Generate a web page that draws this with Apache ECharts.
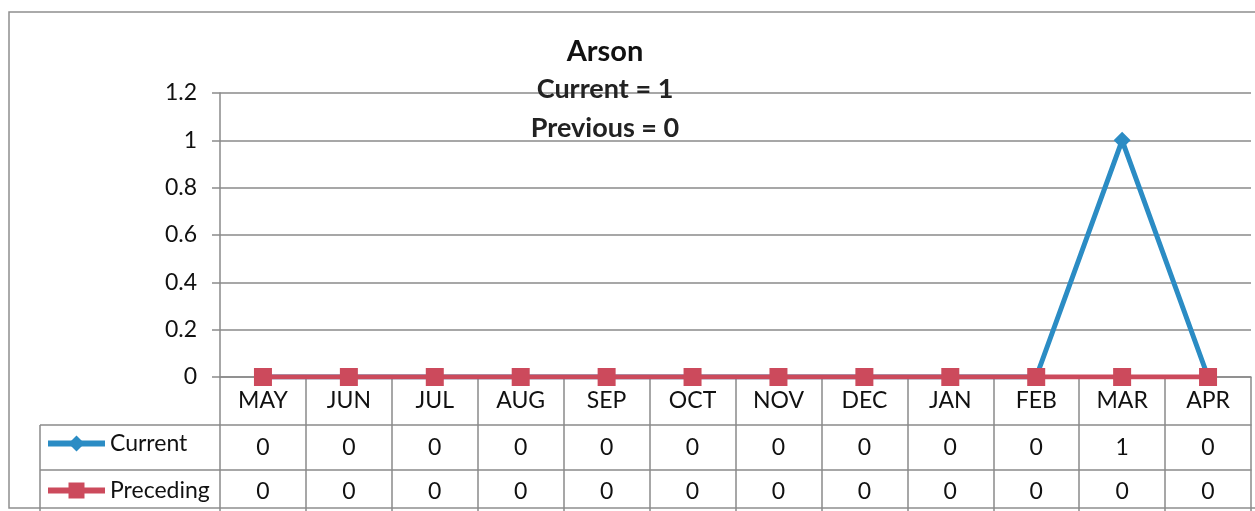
<!DOCTYPE html>
<html>
<head>
<meta charset="utf-8">
<script src="https://cdn.jsdelivr.net/npm/echarts@6/dist/echarts.min.js"></script>
<style>
html,body{margin:0;padding:0;background:#fff;}
#c{width:1255px;height:511px;}
</style>
</head>
<body>
<div id="c"></div>
<script>
const chartTitle = 'Arson';
const months = ['MAY','JUN','JUL','AUG','SEP','OCT','NOV','DEC','JAN','FEB','MAR','APR'];
const currentVals = [0,0,0,0,0,0,0,0,0,0,1,0];
const precedingVals = [0,0,0,0,0,0,0,0,0,0,0,0];
const yTicks = {min: 0, max: 1.2, interval: 0.2};

const sum = a => a.reduce((s, v) => s + v, 0);
const FONT = 'Lato, "Open Sans", sans-serif';
const GRID_COLOR = '#8a8a8a';
const BLUE = '#2b8cc4';
const RED = '#cc4a5c';
const FS = 23;

const chart = echarts.init(document.getElementById('c'));
chart.setOption({
  animation: false,
  backgroundColor: '#fff',
  textStyle: {fontFamily: FONT},
  title: {
    text: chartTitle,
    subtext: 'Current = ' + sum(currentVals) + '\nPrevious = ' + sum(precedingVals),
    left: 600, textAlign: 'center', top: 32, itemGap: 4,
    textStyle: {fontFamily: FONT, fontSize: 29, fontWeight: 'bold', color: '#111'},
    subtextStyle: {fontFamily: FONT, fontSize: 27, fontWeight: 'bold', color: '#222', lineHeight: 39}
  },
  legend: {
    data: ['Current', 'Preceding'],
    orient: 'vertical', left: 45, top: 432, itemGap: 24, padding: 0,
    itemWidth: 57, itemHeight: 20,
    lineStyle: {width: 6},
    textStyle: {fontFamily: FONT, fontSize: FS, color: '#111'}
  },
  grid: {left: 220, right: 4, top: 93, bottom: 134},
  xAxis: [
    {
      type: 'category', data: months, boundaryGap: true,
      axisLine: {show: true, lineStyle: {color: GRID_COLOR, width: 1.5}},
      axisTick: {show: true, length: 140, lineStyle: {color: GRID_COLOR, width: 1.5}},
      axisLabel: {fontFamily: FONT, fontSize: FS, color: '#111', margin: 12}
    },
    {
      type: 'category', data: months, position: 'bottom', offset: 48, gridIndex: 0,
      axisLine: {show: true, lineStyle: {color: GRID_COLOR, width: 1.5}},
      axisTick: {show: false},
      axisLabel: {fontFamily: FONT, fontSize: FS, color: '#111', margin: 11,
        formatter: (v, i) => String(currentVals[i])}
    },
    {
      type: 'category', data: months, position: 'bottom', offset: 93, gridIndex: 0,
      axisLine: {show: true, lineStyle: {color: GRID_COLOR, width: 1.5}},
      axisTick: {show: false},
      axisLabel: {fontFamily: FONT, fontSize: FS, color: '#111', margin: 10,
        formatter: (v, i) => String(precedingVals[i])}
    }
  ],
  yAxis: {
    type: 'value', min: yTicks.min, max: yTicks.max, interval: yTicks.interval,
    axisLine: {show: true, lineStyle: {color: GRID_COLOR, width: 1.5}},
    axisTick: {show: true, length: 8, lineStyle: {color: GRID_COLOR, width: 1.5}},
    axisLabel: {fontFamily: FONT, fontSize: FS, color: '#111', margin: 23},
    splitLine: {show: true, lineStyle: {color: GRID_COLOR, width: 1.5}}
  },
  series: [
    {
      name: 'Current', type: 'line', data: currentVals, xAxisIndex: 0,
      symbol: 'diamond', symbolSize: 17,
      lineStyle: {color: BLUE, width: 5},
      itemStyle: {color: BLUE},
      z: 2
    },
    {
      name: 'Preceding', type: 'line', data: precedingVals, xAxisIndex: 0,
      symbol: 'rect', symbolSize: 18,
      lineStyle: {color: RED, width: 5},
      itemStyle: {color: RED},
      z: 3
    }
  ],
  graphic: [
    {type: 'rect', shape: {x: 9, y: 12, width: 1270, height: 496},
     style: {fill: null, stroke: '#8f8f8f', lineWidth: 1.5}, silent: true, z: -1},
    {type: 'line', shape: {x1: 40, y1: 425, x2: 220, y2: 425},
     style: {stroke: GRID_COLOR, lineWidth: 1.5}, silent: true},
    {type: 'line', shape: {x1: 40, y1: 470, x2: 220, y2: 470},
     style: {stroke: GRID_COLOR, lineWidth: 1.5}, silent: true},
    {type: 'line', shape: {x1: 40, y1: 425, x2: 40, y2: 520},
     style: {stroke: GRID_COLOR, lineWidth: 1.5}, silent: true}
  ]
});
</script>
</body>
</html>
